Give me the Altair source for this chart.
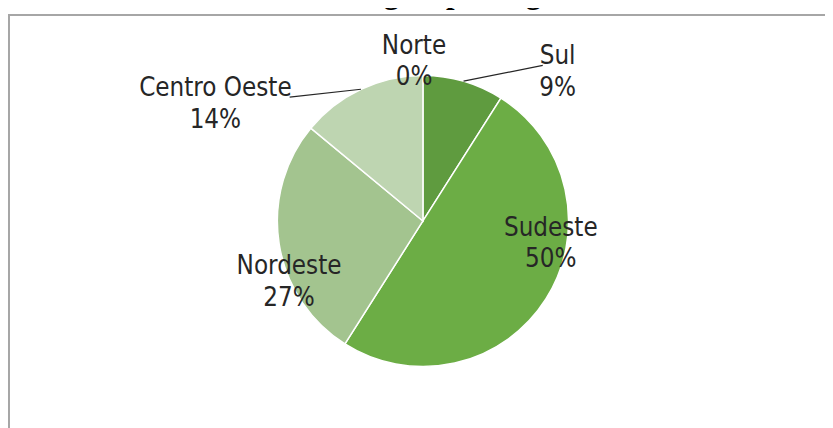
import altair as alt
import pandas as pd

# ---- data ----
regions = ["Norte", "Sul", "Sudeste", "Nordeste", "Centro Oeste"]
percent = [0, 9, 50, 27, 14]
slice_colors = ["#4f8a32", "#5f9b3f", "#6cad45", "#a3c48f", "#bed5b1"]
title_text = "Origem por região"

df = pd.DataFrame({"region": regions, "pct": percent, "order": list(range(len(regions)))})

W, H = 825, 420
CX, CY, R = 419, 213, 147
LABEL_FONT = "Liberation Sans Narrow, Arial Narrow, DejaVu Sans Condensed, sans-serif"
TEXT_COLOR = "#262626"

base = (
    alt.Chart(df)
    .transform_window(cum="sum(pct)", sort=[alt.SortField("order")], frame=[None, 0])
    .transform_joinaggregate(total="sum(pct)")
    .transform_calculate(
        mid="(datum.cum - datum.pct / 2) / datum.total * 2 * PI",
        label="datum.region + '\\n' + datum.pct + '%'",
    )
    .transform_calculate(
        ex=f"{CX} + {R} * sin(datum.mid)",
        ey=f"{CY} - {R} * cos(datum.mid)",
    )
)

pie = alt.Chart(df).mark_arc(radius=R, stroke="white", strokeWidth=1.5).encode(
    x=alt.value(CX),
    y=alt.value(CY),
    theta=alt.Theta("pct:Q", stack=True),
    order=alt.Order("order:Q"),
    color=alt.Color("region:N", scale=alt.Scale(domain=regions, range=slice_colors), legend=None),
)

# label nudges relative to the slice's mid-angle point on the rim (first line anchor)
label_offsets = {
    "Norte": (-9, -30),
    "Sul": (95, -25),
    "Sudeste": (5, -72),
    "Nordeste": (10, 23),
    "Centro Oeste": (-147, -1),
}
labels = []
for r, (dx, dy) in label_offsets.items():
    labels.append(
        base.transform_filter(alt.datum.region == r)
        .mark_text(
            dx=dx, dy=dy, font=LABEL_FONT, fontSize=26, lineBreak="\n", lineHeight=32,
            align="center", baseline="middle", color=TEXT_COLOR,
        )
        .encode(x=alt.X("ex:Q", scale=None), y=alt.Y("ey:Q", scale=None), text="label:N")
    )

# leader lines from rim to outside labels
leader_ends = {"Sul": (80, -16), "Centro Oeste": (-72, 8)}
leaders = []
for r, (lx, ly) in leader_ends.items():
    leaders.append(
        base.transform_filter(alt.datum.region == r)
        .transform_calculate(lx=f"datum.ex + {lx}", ly=f"datum.ey + {ly}")
        .mark_rule(color=TEXT_COLOR, strokeWidth=1.2)
        .encode(
            x=alt.X("ex:Q", scale=None), y=alt.Y("ey:Q", scale=None),
            x2="lx:Q", y2="ly:Q",
        )
    )

one = pd.DataFrame({"t": [title_text]})
frame = alt.Chart(one).mark_rect(fill="white", stroke="#a6a6a6", strokeWidth=2).encode(
    x=alt.value(1), y=alt.value(5), x2=alt.value(W + 50), y2=alt.value(H + 50)
)
title = alt.Chart(one).mark_text(
    font="Liberation Serif", fontWeight="bold", fontSize=31, align="left",
    baseline="alphabetic", color="#000000",
).encode(x=alt.value(333), y=alt.value(-7), text="t:N")

chart = (
    alt.layer(frame, title, pie, *leaders, *labels)
    .properties(
        width=W, height=H, padding=0,
        autosize=alt.AutoSizeParams(type="none"),
        background="white",
    )
    .configure_view(stroke=None)
)

chart.save("out.html", embed_options={"renderer": "svg", "actions": False})
